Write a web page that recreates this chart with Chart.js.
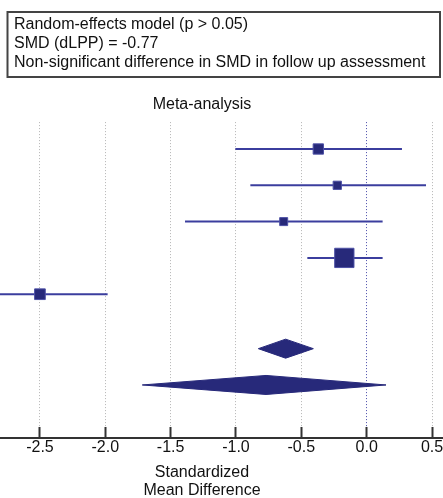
<!DOCTYPE html>
<html>
<head>
<meta charset="utf-8">
<script src="https://cdn.jsdelivr.net/npm/chart.js@4/dist/chart.umd.min.js"></script>
<style>
  html, body { margin: 0; padding: 0; background: #ffffff; overflow: hidden; width: 443px; height: 498px; }
  #wrap { position: relative; width: 443px; height: 498px; overflow: hidden; }
  #c { position: absolute; left: -39px; top: 0; }
</style>
</head>
<body>
<div id="wrap"><canvas id="c" width="482" height="498"></canvas></div>
<script>
// ---- data ----
const studies = ["Study 1", "Study 2", "Study 3", "Study 4", "Study 5"];
const studyRows = [0, 1, 2, 3, 4];
const estimates = [-0.37, -0.225, -0.635, -0.171, -2.50];
const lowerCI = [-1.005, -0.89, -1.39, -0.454, -3.018];
const upperCI = [0.27, 0.454, 0.122, 0.122, -1.982];
const weights = [15.2, 10.2, 9.6, 48.8, 16.2];

const pooledLabels = ["Fixed-effect model", "Random-effects model"];
const pooledRows = [5.5, 6.5];
const pooledEst = [-0.62, -0.77];
const pooledLower = [-0.829, -1.717];
const pooledUpper = [-0.408, 0.148];

const tickValues = [-2.5, -2.0, -1.5, -1.0, -0.5, 0.0, 0.5];
const tickLabels = ["-2.5", "-2.0", "-1.5", "-1.0", "-0.5", "0.0", "0.5"];

const noteLines = [
  "Random-effects model (p > 0.05)",
  "SMD (dLPP) = -0.77",
  "Non-significant difference in SMD in follow up assessment"
];
const chartTitle = "Meta-analysis";
const axisTitle = ["Standardized", "Mean Difference"];

// ---- styles ----
const NAVY = "#27297a";
const LINE = "#3b3e9e";
const GRID = "#b5b5b5";
const ZERO = "#4a4dab";
const AXIS = "#333333";
const TEXT = "#111111";
const FONT = "'Liberation Sans', Arial, sans-serif";
const DIAMOND_HALF = 0.262;

const squareRadius = ctx => (Math.sqrt(weights[ctx.dataIndex]) * 2.906 - 1) / Math.SQRT2;

const datasets = [];
datasets.push({
  label: "estimates",
  data: estimates.map((v, i) => ({ x: v, y: studyRows[i] })),
  showLine: false,
  pointStyle: "rect",
  pointRadius: squareRadius,
  pointHoverRadius: squareRadius,
  backgroundColor: NAVY,
  borderColor: "#4e51a6",
  borderWidth: 1,
  order: 0
});
studies.forEach((s, i) => {
  datasets.push({
    label: s,
    data: [{ x: lowerCI[i], y: studyRows[i] }, { x: upperCI[i], y: studyRows[i] }],
    showLine: true,
    borderColor: LINE,
    borderWidth: 2,
    pointRadius: 0,
    fill: false,
    order: 1
  });
});
pooledLabels.forEach((p, i) => {
  datasets.push({
    label: p + " upper",
    data: [
      { x: pooledLower[i], y: pooledRows[i] },
      { x: pooledEst[i], y: pooledRows[i] - DIAMOND_HALF },
      { x: pooledUpper[i], y: pooledRows[i] }
    ],
    showLine: true,
    tension: 0,
    fill: "+1",
    backgroundColor: NAVY,
    borderColor: NAVY,
    borderWidth: 1,
    pointRadius: 0,
    order: 2
  });
  datasets.push({
    label: p + " lower",
    data: [
      { x: pooledLower[i], y: pooledRows[i] },
      { x: pooledEst[i], y: pooledRows[i] + DIAMOND_HALF },
      { x: pooledUpper[i], y: pooledRows[i] }
    ],
    showLine: true,
    tension: 0,
    fill: false,
    backgroundColor: NAVY,
    borderColor: NAVY,
    borderWidth: 1,
    pointRadius: 0,
    order: 2
  });
});

const notePlugin = {
  id: "noteBox",
  afterDraw(chart) {
    const ctx = chart.ctx;
    ctx.save();
    ctx.strokeStyle = "#444444";
    ctx.lineWidth = 2;
    ctx.strokeRect(46.5, 12, 432.5, 65);
    ctx.fillStyle = TEXT;
    ctx.font = "16px " + FONT;
    ctx.textBaseline = "middle";
    ctx.textAlign = "left";
    noteLines.forEach((t, i) => ctx.fillText(t, 53, 25 + i * 18.8));
    ctx.restore();
  }
};

new Chart(document.getElementById("c"), {
  type: "scatter",
  data: { datasets },
  plugins: [notePlugin],
  options: {
    responsive: false,
    animation: false,
    devicePixelRatio: 1,
    layout: { autoPadding: false, padding: { top: 0, bottom: 0, left: 0, right: 0 } },
    plugins: {
      legend: { display: false },
      tooltip: { enabled: false },
      title: {
        display: true,
        text: chartTitle,
        color: TEXT,
        font: { family: FONT, size: 16, weight: "normal", lineHeight: 1.2 },
        padding: { top: 94.7, bottom: 8.2 }
      }
    },
    scales: {
      x: {
        type: "linear",
        position: "bottom",
        min: -3.104,
        max: 0.584,
        afterBuildTicks: s => { s.ticks = tickValues.map(v => ({ value: v })); },
        afterFit: s => { s.height = 60; s.paddingLeft = 0; s.paddingRight = 0; },
        ticks: {
          autoSkip: false,
          maxRotation: 0,
          minRotation: 0,
          padding: 11.4,
          color: TEXT,
          font: { family: FONT, size: 16, lineHeight: 1.2 },
          callback: (v, i) => tickLabels[i]
        },
        grid: {
          color: ctx => (ctx.tick && ctx.tick.value === 0 ? ZERO : GRID),
          lineWidth: 1,
          drawTicks: true,
          tickLength: -11,
          tickColor: AXIS,
          tickWidth: 2,
          tickBorderDash: []
        },
        border: { display: true, color: AXIS, width: 2, dash: [1, 2] },
        title: {
          display: true,
          text: axisTitle,
          color: TEXT,
          font: { family: FONT, size: 16, lineHeight: 1.125 },
          padding: { top: 0, bottom: -2 }
        }
      },
      y: {
        type: "linear",
        display: false,
        reverse: true,
        min: -0.741,
        max: 7.961
      }
    }
  }
});
</script>
</body>
</html>
